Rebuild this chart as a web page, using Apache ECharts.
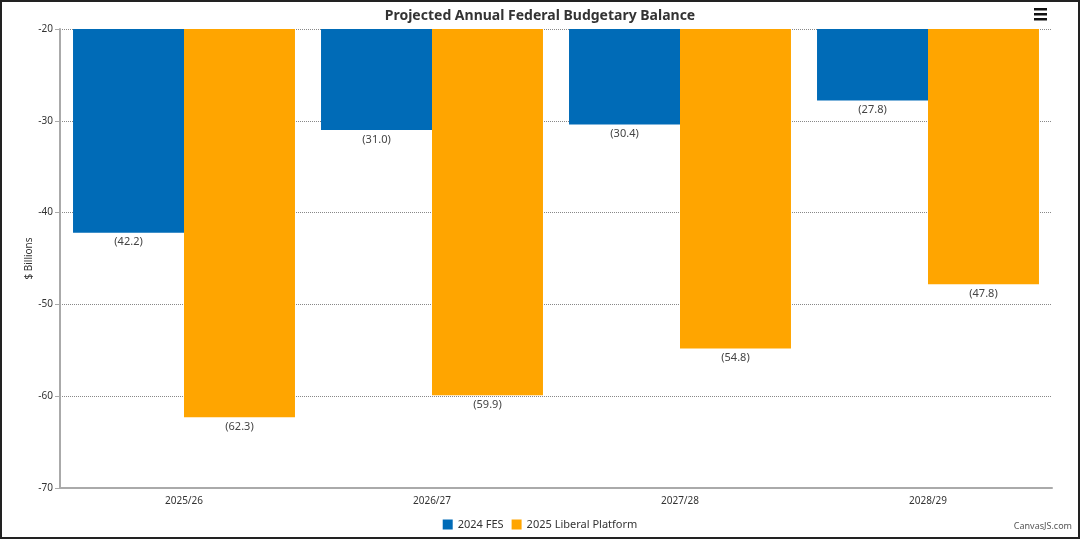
<!DOCTYPE html>
<html><head><meta charset="utf-8">
<script src="https://cdn.jsdelivr.net/npm/echarts@6/dist/echarts.min.js"></script>
<style>
html,body{margin:0;padding:0;background:#fff;}
#wrap{width:1080px;height:539px;box-sizing:border-box;border:2px solid #222;position:relative;}
#c{position:absolute;left:-2px;top:-2px;width:1080px;height:539px;}
</style></head>
<body><div id="wrap"><div id="c"></div></div>
<script>
const categories = ['2025/26','2026/27','2027/28','2028/29'];
const fes2024 = [-42.2, -31.0, -30.4, -27.8];
const liberal2025 = [-62.3, -59.9, -54.8, -47.8];
const seriesNames = ['2024 FES','2025 Liberal Platform'];

const font = 'Noto Sans, Open Sans, sans-serif';
const chart = echarts.init(document.getElementById('c'));
const lbl = {
  show: true, position: 'bottom', distance: 4,
  color: '#444', fontSize: 11, fontFamily: font,
  formatter: p => '(' + Math.abs(p.value).toFixed(1) + ')'
};
chart.setOption({
  animation: false,
  title: {
    text: 'Projected Annual Federal Budgetary Balance',
    left: 'center', top: 4,
    textStyle: {fontSize: 14, fontWeight: 'bold', color: '#333', fontFamily: font}
  },
  legend: {
    bottom: 4, left: 'center', itemWidth: 10, itemHeight: 10, itemGap: 8,
    icon: 'rect',
    textStyle: {fontSize: 11, color: '#333', fontFamily: font},
    data: seriesNames
  },
  grid: {left: 60, right: 28, top: 29, bottom: 51, containLabel: false},
  xAxis: {
    type: 'category', data: categories,
    axisLine: {lineStyle: {color: '#aaa', width: 2}},
    axisTick: {alignWithLabel: true, length: 5, lineStyle: {color: '#aaa'}},
    axisLabel: {color: '#333', fontSize: 10, fontFamily: font, margin: 8}
  },
  yAxis: {
    type: 'value', min: -70, max: -20, interval: 10,
    name: '$ Billions', nameLocation: 'middle', nameGap: 26, nameRotate: 90,
    nameMoveOverlap: false,
    nameTextStyle: {fontSize: 10, color: '#333', fontFamily: font},
    axisLine: {show: true, lineStyle: {color: '#aaa', width: 2}},
    axisTick: {show: true, length: 5, lineStyle: {color: '#aaa'}},
    axisLabel: {color: '#333', fontSize: 10, fontFamily: font, margin: 7},
    splitLine: {lineStyle: {type: 'dotted', color: '#888'}}
  },
  series: [
    {name: seriesNames[0], type: 'bar', data: fes2024, barGap: '0%', barCategoryGap: '10.5%',
     itemStyle: {color: '#006BB7'}, label: lbl},
    {name: seriesNames[1], type: 'bar', data: liberal2025,
     itemStyle: {color: '#FFA500'}, label: lbl}
  ],
  graphic: [
    {type: 'rect', left: 1034, top: 8, shape: {width: 13, height: 2.5}, style: {fill: '#111'}},
    {type: 'rect', left: 1034, top: 13, shape: {width: 13, height: 2.5}, style: {fill: '#111'}},
    {type: 'rect', left: 1034, top: 18, shape: {width: 13, height: 2.5}, style: {fill: '#111'}},
    {type: 'text', right: 8, bottom: 8, style: {text: 'CanvasJS.com', fontSize: 9, fill: '#555', fontFamily: font}}
  ]
});
</script></body></html>
